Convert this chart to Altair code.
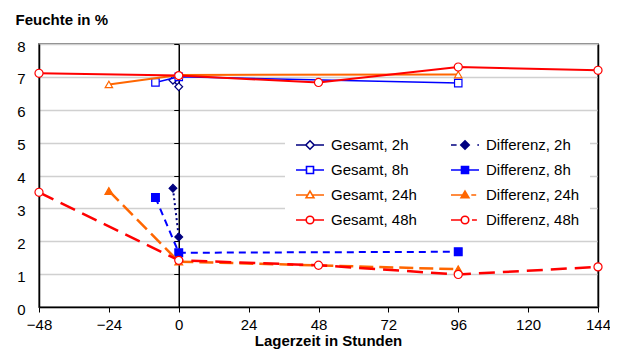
import altair as alt
import pandas as pd

FONT = "Liberation Sans"

# ---- data ----
series = ["Gesamt, 2h", "Gesamt, 8h", "Gesamt, 24h", "Gesamt, 48h",
          "Differenz, 2h", "Differenz, 8h", "Differenz, 24h", "Differenz, 48h"]

g2_x = [-2, 0]
g2_y = [6.90, 6.70]
g8_x = [-8, 0, 96]
g8_y = [6.83, 7.00, 6.81]
g24_x = [-24, 0, 96]
g24_y = [6.77, 7.06, 7.07]
g48_x = [-48, 0, 48, 96, 144]
g48_y = [7.11, 7.04, 6.83, 7.30, 7.20]

d2_x = [-2, 0]
d2_y = [3.61, 2.13]
d8_x = [-8, 0, 96]
d8_y = [3.33, 1.65, 1.68]
d24_x = [-24, 0, 96]
d24_y = [3.53, 1.38, 1.15]
d48_x = [-48, 0, 48, 96, 144]
d48_y = [3.49, 1.42, 1.27, 0.99, 1.22]

x_ticks = [-48, -24, 0, 24, 48, 72, 96, 120, 144]
y_ticks = [0, 1, 2, 3, 4, 5, 6, 7, 8]

draw_order = [
    ("Gesamt, 2h", g2_x, g2_y), ("Gesamt, 8h", g8_x, g8_y),
    ("Gesamt, 24h", g24_x, g24_y), ("Gesamt, 48h", g48_x, g48_y),
    ("Differenz, 2h", d2_x, d2_y), ("Differenz, 8h", d8_x, d8_y),
    ("Differenz, 24h", d24_x, d24_y), ("Differenz, 48h", d48_x, d48_y),
]

# ---- styles ----
NAVY, BLUE, ORANGE, RED = "#000080", "#0000FF", "#FF6600", "#FF0000"
styles = {
    "Gesamt, 2h": dict(color=NAVY, dash=None, width=1.5, shape="diamond", fill="white", size=60),
    "Gesamt, 8h": dict(color=BLUE, dash=None, width=1.5, shape="square", fill="white", size=55),
    "Gesamt, 24h": dict(color=ORANGE, dash=None, width=2, shape="triangle-up", fill="white", size=55),
    "Gesamt, 48h": dict(color=RED, dash=None, width=2, shape="circle", fill="white", size=65),
    "Differenz, 2h": dict(color=NAVY, dash=[2, 3], width=2, shape="diamond", fill=NAVY, size=60),
    "Differenz, 8h": dict(color=BLUE, dash=[7, 5], width=2, shape="square", fill=BLUE, size=60),
    "Differenz, 24h": dict(color=ORANGE, dash=[14, 6], width=2.5, shape="triangle-up", fill=ORANGE, size=60),
    "Differenz, 48h": dict(color=RED, dash=[16, 8], width=2.5, shape="circle", fill="white", size=65),
}

DIA = "M0,-0.3L0.3,0L0,0.3L-0.3,0Z"
SQ = "M-0.25,-0.25H0.25V0.25H-0.25Z"
TRI = "M0,-0.28L0.28,0.2H-0.28Z"
CIR = "M0.27,0A0.27,0.27,0,1,1,-0.27,0A0.27,0.27,0,1,1,0.27,0Z"
legend_paths = {
    "Gesamt, 2h": "M-1,0H-0.3M0.3,0H1" + DIA,
    "Differenz, 2h": "M-1,0H-0.6M0.88,0H1" + DIA,
    "Gesamt, 8h": "M-1,0H-0.25M0.25,0H1" + SQ,
    "Differenz, 8h": "M-1,0H1" + SQ,
    "Gesamt, 24h": "M-1,0H-0.16M0.16,0H1" + TRI,
    "Differenz, 24h": "M-1,0H-0.16M0.45,0H0.8" + TRI,
    "Gesamt, 48h": "M-1,0H-0.27M0.27,0H1" + CIR,
    "Differenz, 48h": "M-1,0H-0.27M0.5,0H0.85" + CIR,
}

xscale = alt.Scale(domain=[-48, 144], nice=False, zero=False)
yscale = alt.Scale(domain=[0, 8], nice=False, zero=False)
W, H = 559, 263

leg_kw = dict(
    orient="none", legendX=246, legendY=76, title=None, columns=2,
    fillColor="white", padding=10, symbolSize=784, symbolStrokeWidth=1.6,
    symbolOpacity=1, symbolFillColor="white", symbolStrokeColor="black",
    labelFont=FONT, labelFontSize=15, labelColor="black", labelOffset=6,
    columnPadding=30, rowPadding=2, labelLimit=200,
)

leg_df = pd.DataFrame({"series": series, "t": [0] * 8, "v": [0] * 8})
legend_layer = alt.Chart(leg_df).transform_filter("false").mark_point(
    opacity=1, filled=False, strokeWidth=1.6
).encode(
    x=alt.X("t:Q", scale=xscale, axis=alt.Axis(
        values=x_ticks, title="Lagerzeit in Stunden", titleFont=FONT, titleFontSize=15,
        titleFontWeight="bold", titleColor="black", titleX=289, titleY=38,
        titleAlign="center", titleBaseline="alphabetic",
        labelFont=FONT, labelFontSize=15, labelColor="black", labelPadding=5,
        labelFlush=False, tickColor="black", tickSize=5, tickWidth=1,
        domainColor="black", domainWidth=1.5, grid=False)),
    y=alt.Y("v:Q", scale=yscale, axis=alt.Axis(
        values=y_ticks, title="Feuchte in %", titleFont=FONT, titleFontSize=15,
        titleFontWeight="bold", titleColor="black", titleAngle=0, titleAlign="left",
        titleBaseline="alphabetic", titleX=-24, titleY=-20,
        labelFont=FONT, labelFontSize=15, labelColor="black", labelPadding=14,
        labelOffset=2, tickSize=0, domainColor="black", domainWidth=1.5,
        grid=True, gridColor="#d0d0d0", gridWidth=1.5)),
    shape=alt.Shape("series:N", scale=alt.Scale(domain=series, range=[legend_paths[s] for s in series]),
                    legend=alt.Legend(**leg_kw)),
    stroke=alt.Stroke("series:N", scale=alt.Scale(domain=series, range=[styles[s]["color"] for s in series]),
                      legend=alt.Legend(**leg_kw)),
    fill=alt.Fill("series:N", scale=alt.Scale(domain=series, range=[styles[s]["fill"] for s in series]),
                  legend=alt.Legend(**leg_kw)),
)

mid_axis_layer = alt.Chart(leg_df).transform_filter("false").mark_point(opacity=0).encode(
    x=alt.X("t:Q", scale=xscale, axis=None),
    y=alt.Y("v:Q", scale=yscale, axis=alt.Axis(
        orient="left", offset=-139.75, values=y_ticks, labels=False, tickSize=5,
        tickColor="black", domainColor="black", domainWidth=1.5, grid=False, title=None)),
)

right_axis_layer = alt.Chart(leg_df).transform_filter("false").mark_point(opacity=0).encode(
    x=alt.X("t:Q", scale=xscale, axis=None),
    y=alt.Y("v:Q", scale=yscale, axis=alt.Axis(
        orient="right", labels=False, ticks=False, domainColor="black",
        domainWidth=1.5, grid=False, title=None)),
)

layers = [legend_layer, mid_axis_layer, right_axis_layer]
for name, xs, ys in draw_order:
    st = styles[name]
    d = pd.DataFrame({"t": xs, "v": ys})
    kw = dict(color=st["color"], strokeWidth=st["width"])
    if st["dash"]:
        kw["strokeDash"] = st["dash"]
    line = alt.Chart(d).mark_line(**kw).encode(
        x=alt.X("t:Q", scale=xscale, axis=None),
        y=alt.Y("v:Q", scale=yscale, axis=None),
    )
    pts = alt.Chart(d).mark_point(
        shape=st["shape"], filled=True, fill=st["fill"], stroke=st["color"],
        strokeWidth=1.2, size=st["size"], opacity=1,
    ).encode(
        x=alt.X("t:Q", scale=xscale, axis=None),
        y=alt.Y("v:Q", scale=yscale, axis=None),
    )
    layers += [line, pts]

chart = alt.layer(*layers).resolve_axis(x="independent", y="independent").properties(
    width=W, height=H,
    autosize=alt.AutoSizeParams(type="none"),
    padding={"left": 31, "top": 36, "right": 12, "bottom": 43},
    background="white",
).configure_view(stroke="#808080", strokeWidth=2)

chart.save("out.html", embed_options={"renderer": "svg", "actions": False})
